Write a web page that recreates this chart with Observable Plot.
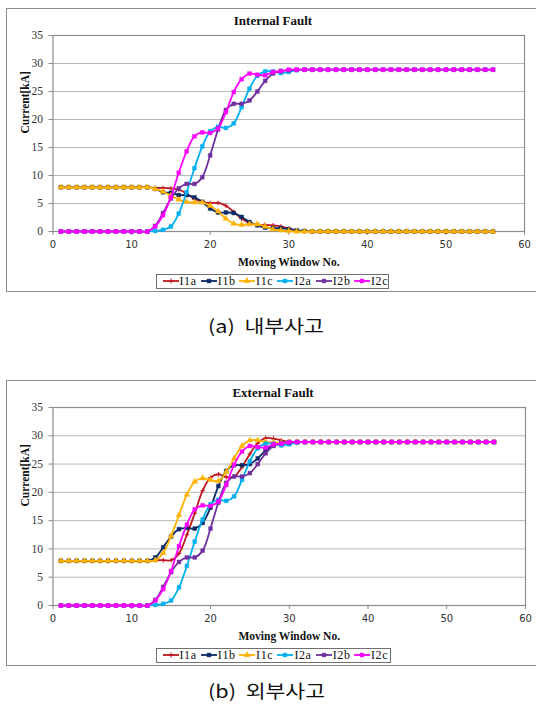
<!DOCTYPE html>
<html>
<head>
<meta charset="utf-8">
<script src="https://cdn.jsdelivr.net/npm/d3@7"></script>
<script src="https://cdn.jsdelivr.net/npm/@observablehq/plot@0.6"></script>
<style>
  html, body { margin: 0; padding: 0; background: #fff; }
  body { width: 536px; height: 711px; overflow: hidden; position: relative; }
  .frame { position: absolute; border: 1.5px solid #8a8a8a; box-sizing: border-box; background: #fff; }
  .chart { position: absolute; left: 0; }
  .chart svg { overflow: visible; }
  .legend { position: absolute; box-sizing: border-box; border: 1.2px solid #707070; background: #fff;
            display: flex; align-items: center; padding-left: 6px;
            font-family: "Liberation Serif", serif; font-size: 12px; color: #111; }
  .legend .item { display: flex; align-items: center; width: 38.3px; flex: none; }
  .legend .item span { margin-left: 1px; letter-spacing: 0.6px; }
  .caption { position: absolute; font-family: "Noto Sans CJK KR", sans-serif; font-size: 18px; line-height: 20px;
             color: #111; white-space: pre; transform: scaleX(1.2); transform-origin: left center; }
</style>
</head>
<body>
<script>
// ---------- data ----------
const windows = [1,2,3,4,5,6,7,8,9,10,11,12,13,14,15,16,17,18,19,20,21,22,23,24,25,26,27,28,
                 29,30,31,32,33,34,35,36,37,38,39,40,41,42,43,44,45,46,47,48,49,50,51,52,53,54,55,56];
const xTicks = [0, 10, 20, 30, 40, 50, 60];
const yTicks = [0, 5, 10, 15, 20, 25, 30, 35];
const seriesNames = ["I1a", "I1b", "I1c", "I2a", "I2b", "I2c"];
const seriesColors = ["#c0161e", "#0c2a68", "#ffb300", "#00b0f0", "#7030a0", "#ff00ff"];
const seriesSymbols = ["plus", "square", "triangle", "square", "square", "square"];

// Internal fault, relay-1 currents
const I1a_int = [7.9,7.9,7.9,7.9,7.9,7.9,7.9,7.9,7.9,7.9,7.9,7.9,
  7.8,7.8,7.7,7.5,6.8,5.8,5.3,5.1,5.1,4.6,3.5,2.3,1.5,1.2,1.2,1.1,0.9,0.5,0.2,0.1,
  0,0,0,0,0,0,0,0,0,0,0,0,0,0,0,0,0,0,0,0,0,0,0,0];
const I1b_int = [7.9,7.9,7.9,7.9,7.9,7.9,7.9,7.9,7.9,7.9,7.9,7.9,
  7.6,7.0,6.9,6.5,6.5,6.1,5.3,4.1,3.4,3.4,3.3,2.6,1.7,1.1,0.7,0.6,0.6,0.4,0.2,0.1,
  0,0,0,0,0,0,0,0,0,0,0,0,0,0,0,0,0,0,0,0,0,0,0,0];
const I1c_int = [7.9,7.9,7.9,7.9,7.9,7.9,7.9,7.9,7.9,7.9,7.9,7.9,
  7.6,7.1,6.4,5.7,5.3,5.2,5.2,4.6,3.6,2.3,1.4,1.2,1.3,1.3,0.9,0.4,0.2,0.1,0,0,
  0,0,0,0,0,0,0,0,0,0,0,0,0,0,0,0,0,0,0,0,0,0,0,0];
// Relay-2 currents (same in both cases)
const I2a = [0,0,0,0,0,0,0,0,0,0,0,0,
  0.1,0.3,0.9,3.2,7.0,11.3,15.2,17.9,18.7,18.5,19.3,22.2,25.5,27.8,28.6,28.6,28.3,28.5,28.8,28.9,
  28.9,28.9,28.9,28.9,28.9,28.9,28.9,28.9,28.9,28.9,28.9,28.9,28.9,28.9,28.9,28.9,28.9,28.9,28.9,28.9,28.9,28.9,28.9,28.9];
const I2b = [0,0,0,0,0,0,0,0,0,0,0,0,
  1.0,3.3,5.9,7.7,8.5,8.5,9.7,13.6,18.2,21.7,22.8,22.8,23.4,25.0,26.9,28.2,28.7,28.8,28.9,28.9,
  28.9,28.9,28.9,28.9,28.9,28.9,28.9,28.9,28.9,28.9,28.9,28.9,28.9,28.9,28.9,28.9,28.9,28.9,28.9,28.9,28.9,28.9,28.9,28.9];
const I2c = [0,0,0,0,0,0,0,0,0,0,0,0,
  0.9,2.9,6.1,10.5,14.3,17.0,17.7,17.6,18.4,21.3,24.9,27.2,28.2,28.0,27.9,28.5,28.6,28.9,28.9,28.9,
  28.9,28.9,28.9,28.9,28.9,28.9,28.9,28.9,28.9,28.9,28.9,28.9,28.9,28.9,28.9,28.9,28.9,28.9,28.9,28.9,28.9,28.9,28.9,28.9];
// External fault, relay-1 currents
const I1a_ext = [7.9,7.9,7.9,7.9,7.9,7.9,7.9,7.9,7.9,7.9,7.9,7.9,
  8.0,8.0,8.0,9.2,12.5,16.3,20.3,22.6,23.2,22.7,22.8,24.5,26.8,28.7,29.6,29.5,29.2,28.9,28.9,28.9,
  28.9,28.9,28.9,28.9,28.9,28.9,28.9,28.9,28.9,28.9,28.9,28.9,28.9,28.9,28.9,28.9,28.9,28.9,28.9,28.9,28.9,28.9,28.9,28.9];
const I1b_ext = [7.9,7.9,7.9,7.9,7.9,7.9,7.9,7.9,7.9,7.9,7.9,7.9,
  8.5,10.3,12.2,13.5,13.7,13.6,14.6,17.3,21.1,23.8,24.8,24.8,25.0,26.0,27.4,28.4,28.8,28.9,28.9,28.9,
  28.9,28.9,28.9,28.9,28.9,28.9,28.9,28.9,28.9,28.9,28.9,28.9,28.9,28.9,28.9,28.9,28.9,28.9,28.9,28.9,28.9,28.9,28.9,28.9];
const I1c_ext = [7.9,7.9,7.9,7.9,7.9,7.9,7.9,7.9,7.9,7.9,7.9,7.9,
  8.0,9.3,12.3,16.0,19.6,21.9,22.5,22.2,22.0,23.6,26.0,28.2,29.2,29.2,28.9,28.8,28.8,28.9,28.9,28.9,
  28.9,28.9,28.9,28.9,28.9,28.9,28.9,28.9,28.9,28.9,28.9,28.9,28.9,28.9,28.9,28.9,28.9,28.9,28.9,28.9,28.9,28.9,28.9,28.9];

const titles = ["Internal Fault", "External Fault"];
const captions = ["(a)  내부사고", "(b)  외부사고"];
const xLabel = "Moving Window No.";
const yLabel = "Current[kA]";

// ---------- drawing ----------
const serif = "Liberation Serif, Times New Roman, serif";
const symbolMap = {plus: d3.symbolPlus, square: d3.symbolSquare, triangle: d3.symbolTriangle};

function makeChart(cfg) {
  const frame = document.createElement("div");
  frame.className = "frame";
  Object.assign(frame.style, {left: "6px", top: cfg.frameTop + "px", width: "540px",
                              height: (cfg.frameBottom - cfg.frameTop) + "px"});
  document.body.appendChild(frame);

  const marginBottom = 44;
  const H = cfg.plotBottom - cfg.svgTop + marginBottom;
  const marks = [
    Plot.gridY(yTicks, {stroke: "#b8b8b8", strokeOpacity: 1, strokeWidth: 1}),
    Plot.frame({stroke: "#8c8c8c", strokeWidth: 1.2}),
    Plot.axisY({ticks: yTicks, tickSize: 4, tickPadding: 6, label: null, stroke: "#8c8c8c", fill: "#333",
                fontFamily: serif, fontSize: 11.5}),
    Plot.axisX({ticks: xTicks, tickSize: 4, tickPadding: 5, label: null, stroke: "#8c8c8c", fill: "#333",
                fontFamily: "DejaVu Sans, sans-serif", fontSize: 10})
  ];
  cfg.series.forEach((vals, k) => {
    const data = windows.map((w, i) => ({w, v: vals[i]}));
    const color = seriesColors[k];
    marks.push(Plot.line(data, {x: "w", y: "v", stroke: color, strokeWidth: 1.8, curve: "catmull-rom"}));
    const sym = seriesSymbols[k];
    if (sym === "plus") {
      marks.push(Plot.dot(data, {x: "w", y: "v", symbol: "plus", r: 1.6, stroke: color, fill: "none", strokeWidth: 1}));
    } else {
      marks.push(Plot.dot(data, {x: "w", y: "v", symbol: sym, r: sym === "triangle" ? 2.2 : 2.2, fill: color, stroke: color, strokeWidth: 0.4}));
    }
  });
  marks.push(Plot.text([cfg.title], {frameAnchor: "top-left", dx: 220, dy: -15, text: d => d, textAnchor: "middle",
                                     lineAnchor: "middle",
                                     fontFamily: serif, fontWeight: "bold", fontSize: 13, fill: "#111"}));
  marks.push(Plot.text([xLabel], {frameAnchor: "bottom", dy: 31, text: d => d, lineAnchor: "middle",
                                  fontFamily: serif, fontWeight: "bold", fontSize: 11.5, fill: "#111"}));
  marks.push(Plot.text([yLabel], {frameAnchor: "left", dx: -28, rotate: -90, text: d => d, lineAnchor: "middle",
                                  fontFamily: serif, fontWeight: "bold", fontSize: 11.5, fill: "#111"}));

  const svg = Plot.plot({
    width: 536, height: H,
    marginTop: cfg.plotTop - cfg.svgTop, marginBottom,
    marginLeft: 52.5, marginRight: 536 - cfg.plotRight,
    x: {domain: [0, 60]},
    y: {domain: [0, 35]},
    style: {background: "transparent", overflow: "visible"},
    marks
  });
  const holder = document.createElement("div");
  holder.className = "chart";
  holder.style.top = cfg.svgTop + "px";
  holder.appendChild(svg);
  document.body.appendChild(holder);

  const leg = document.createElement("div");
  leg.className = "legend";
  Object.assign(leg.style, {left: cfg.legLeft + "px", top: cfg.legTop + "px", width: cfg.legWidth + "px", height: "15px"});
  seriesNames.forEach((name, k) => {
    const item = document.createElement("div");
    item.className = "item";
    const sw = d3.create("svg").attr("width", 16).attr("height", 10);
    sw.append("line").attr("x1", 0).attr("x2", 16).attr("y1", 5).attr("y2", 5)
      .attr("stroke", seriesColors[k]).attr("stroke-width", 1.8);
    const sym = seriesSymbols[k];
    sw.append("path").attr("transform", "translate(8,5)")
      .attr("d", d3.symbol(symbolMap[sym], sym === "plus" ? 10 : 15)())
      .attr("fill", sym === "plus" ? "none" : seriesColors[k])
      .attr("stroke", seriesColors[k]).attr("stroke-width", sym === "plus" ? 1 : 0.4);
    item.appendChild(sw.node());
    const t = document.createElement("span");
    t.textContent = name;
    item.appendChild(t);
    leg.appendChild(item);
  });
  document.body.appendChild(leg);

  const cap = document.createElement("div");
  cap.className = "caption";
  cap.textContent = cfg.caption;
  Object.assign(cap.style, {left: "208px", top: cfg.capTop + "px"});
  document.body.appendChild(cap);
}

makeChart({frameTop: 8, frameBottom: 292, svgTop: 0, plotTop: 35, plotBottom: 231, plotRight: 524,
           title: titles[0], series: [I1a_int, I1b_int, I1c_int, I2a, I2b, I2c],
           legLeft: 155.5, legTop: 273.5, legWidth: 233, caption: captions[0], capTop: 315});
makeChart({frameTop: 380, frameBottom: 666, svgTop: 372, plotTop: 407, plotBottom: 605, plotRight: 525,
           title: titles[1], series: [I1a_ext, I1b_ext, I1c_ext, I2a, I2b, I2c],
           legLeft: 155.5, legTop: 647.5, legWidth: 235, caption: captions[1], capTop: 680});
</script>
</body>
</html>
